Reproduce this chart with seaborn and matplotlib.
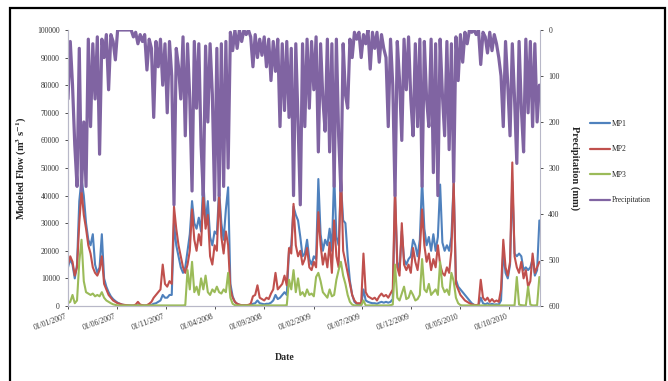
import numpy as np
import pandas as pd
import matplotlib
matplotlib.use("Agg")
import matplotlib.pyplot as plt
import matplotlib.dates as mdates
from matplotlib.lines import Line2D
from matplotlib.patches import Rectangle
from matplotlib.ticker import FormatStrFormatter, MultipleLocator
import seaborn as sns

# weekly samples, starting 01/01/2007
start = "2007-01-01"
n_weeks = 210

# flows in thousands of m3/s
mp1 = [14, 17, 15, 10, 15, 38, 46, 40, 30, 24,
       22, 26, 15, 12, 14, 26, 10, 7, 5, 3.5,
       2.5, 1.8, 1.2, 0.8, 0.5, 0.3, 0.2, 0.2, 0.1, 0.1,
       0.1, 0.3, 0.2, 0.1, 0.1, 0.1, 0.2, 0.4, 0.8, 1,
       1.5, 2, 4, 3, 3, 4, 4, 30, 22, 18,
       14, 12, 14, 20, 26, 38, 30, 28, 32, 27,
       46, 30, 38, 25, 22, 27, 26, 42, 30, 24,
       35, 43, 8, 3.5, 1.5, 0.8, 0.4, 0.2, 0.2, 0.2,
       0.2, 0.3, 0.8, 1, 2, 1, 0.8, 0.6, 0.8, 0.8,
       1.2, 2, 4, 2.5, 3, 4, 5, 4, 20, 22,
       36, 33, 31, 25, 18, 19, 24, 17, 15, 18,
       17, 46, 26, 20, 24, 22, 28, 20, 48, 25,
       22, 45, 31, 30, 18, 9, 4, 1.5, 0.8, 0.5,
       0.5, 6, 2, 1.5, 1.2, 1, 1, 0.8, 1.2, 1.5,
       1.2, 1.5, 1.2, 1.5, 2.5, 40, 16, 13, 27, 17,
       15, 17, 18, 24, 22, 18, 24, 46, 28, 22,
       25, 20, 26, 20, 25, 44, 23, 20, 22, 20,
       25, 45, 9.5, 7, 6, 5, 4, 3, 2, 1,
       0.4, 0.2, 0.2, 3, 1, 0.6, 1, 0.5, 0.8, 0.5,
       0.6, 0.5, 2, 20, 12, 10, 15, 45, 19, 18,
       19, 18, 13, 14, 13, 14, 17, 11, 13, 31]

mp2 = [15, 18, 16, 11, 14, 30, 42, 33, 28, 22,
       19, 14, 12, 11, 13, 18, 8, 6, 4, 3,
       2, 1.5, 1, 0.8, 0.5, 0.4, 0.3, 0.2, 0.2, 0.2,
       0.5, 1.5, 0.5, 0.3, 0.2, 0.3, 0.8, 1.5, 3, 4,
       5, 6, 15, 8, 7, 9, 8, 36, 28, 22,
       18, 14, 12, 15, 20, 35, 24, 20, 26, 22,
       40, 28, 33, 18, 15, 22, 20, 41, 25, 19,
       27, 22, 6, 3, 1.5, 0.8, 0.5, 0.3, 0.3, 0.3,
       0.4, 0.8, 3.5, 4, 7.5, 3, 2.5, 2, 3, 2.5,
       4.5, 6, 12, 6, 7, 8, 11, 7.5, 21, 19,
       37, 22, 18, 20, 15, 17, 21, 14, 13, 16,
       14, 34, 22, 15, 19, 14, 23, 12, 31, 18,
       14, 50, 20, 16, 12, 8, 4, 2, 1, 1,
       1, 19, 5, 3.5, 3, 2.5, 3, 2, 3.5, 4.5,
       3.5, 4, 3, 4.5, 6, 44, 14, 11, 30, 15,
       13, 15, 12, 21, 16, 13, 20, 35, 22, 16,
       19, 13, 17, 14, 22, 15, 12, 11, 14, 12,
       20, 45, 8, 6, 4, 3, 2, 1.5, 1, 0.6,
       0.4, 0.3, 0.5, 9.5, 3, 2, 3, 1.5, 2.5, 1.5,
       2, 1.5, 6, 24, 14, 11, 16, 52, 18, 14,
       12, 16, 10, 13, 7, 9, 19, 12, 14, 16]

mp3 = [1, 1.5, 4, 1, 2, 16, 24, 9, 5, 4.5,
       4, 4.5, 3.5, 4, 3.5, 5, 3, 2, 1.5, 1,
       0.6, 0.4, 0.2, 0.2, 0.2, 0.2, 0.2, 0.2, 0.2, 0.2,
       0.2, 0.2, 0.2, 0.2, 0.2, 0.2, 0.2, 0.2, 0.2, 0.2,
       0.2, 0.2, 0.2, 0.2, 0.2, 0.2, 0.2, 0.2, 0.2, 0.2,
       0.2, 0.2, 0.3, 13, 6, 16, 5, 7, 4, 10,
       6, 11, 5, 4, 6, 5, 7, 5, 4.5, 6,
       5, 12, 3, 0.8, 0.3, 0.2, 0.2, 0.2, 0.2, 0.2,
       0.2, 0.2, 0.2, 0.2, 0.2, 0.2, 0.2, 0.2, 0.2, 0.2,
       0.2, 0.2, 0.2, 0.2, 0.2, 0.2, 0.2, 0.3, 9.5, 6,
       13, 5, 10, 4, 5, 3.5, 6, 4, 4.5, 3.5,
       10.5, 12, 9, 5, 4, 3, 6, 3.5, 4, 9.5,
       13, 16, 11, 8, 4, 1.5, 0.5, 0.2, 0.2, 0.2,
       0.2, 2, 0.2, 0.2, 0.2, 0.2, 0.2, 0.2, 0.2, 0.2,
       0.2, 0.2, 0.2, 0.3, 0.5, 15, 3, 2, 4.5, 7,
       2.5, 3, 5.5, 4, 2, 2.5, 4, 17, 6, 5,
       8, 4, 5, 6, 4, 16, 7, 5, 6, 4,
       12, 9, 3, 1, 0.3, 0.2, 0.2, 0.2, 0.2, 0.2,
       0.2, 0.2, 0.2, 0.2, 0.2, 0.2, 0.2, 0.2, 0.2, 0.2,
       0.2, 0.2, 0.2, 0.2, 0.2, 0.2, 0.2, 0.2, 0.2, 10.5,
       0.5, 0.3, 0.2, 0.2, 7, 0.5, 0.2, 0.2, 0.3, 10.5]

# precipitation in mm
precip = [150, 25, 120, 250, 340, 40, 350, 200, 340, 20,
          210, 30, 150, 15, 270, 20, 60, 10, 130, 10,
          25, 65, 0, 0, 0, 0, 0, 0, 0, 15,
          5, 30, 10, 25, 10, 87, 20, 40, 190, 25,
          80, 20, 120, 30, 180, 25, 100, 380, 40, 80,
          150, 15, 230, 30, 150, 350, 25, 170, 30, 250,
          360, 35, 200, 30, 140, 370, 40, 360, 30, 340,
          25, 300, 5, 45, 0, 40, 0, 25, 0, 10,
          0, 15, 80, 10, 60, 20, 55, 15, 80, 20,
          110, 25, 90, 20, 210, 30, 175, 25, 190, 40,
          360, 30, 200, 380, 30, 210, 20, 170, 25, 130,
          15, 265, 30, 150, 220, 20, 265, 30, 340, 20,
          230, 350, 30, 140, 170, 20, 60, 5, 20, 5,
          60, 10, 30, 0, 85, 5, 40, 5, 70, 10,
          40, 60, 210, 20, 120, 360, 25, 110, 240, 20,
          130, 15, 150, 230, 30, 210, 20, 340, 25, 150,
          210, 20, 310, 30, 360, 20, 140, 230, 25, 260,
          30, 330, 15, 110, 10, 70, 5, 30, 0, 5,
          0, 10, 0, 75, 5, 15, 50, 5, 45, 10,
          30, 60, 100, 210, 25, 120, 230, 30, 150, 290,
          25, 170, 265, 20, 180, 25, 210, 30, 200, 120]

tick_dates = ["2007-01-01", "2007-06-01", "2007-11-01", "2008-04-01",
              "2008-09-01", "2009-02-01", "2009-07-01", "2009-12-01",
              "2010-05-01", "2010-10-01"]

series_names = ["MP1", "MP2", "MP3", "Precipitation"]

dates = pd.date_range(start, periods=n_weeks, freq="7D")
df = pd.DataFrame({
    "Date": dates,
    "MP1": np.array(mp1) * 1000,
    "MP2": np.array(mp2) * 1000,
    "MP3": np.array(mp3) * 1000,
    "Precipitation": precip,
})

sns.set_style("ticks")
plt.rcParams["font.family"] = ["Liberation Serif", "DejaVu Serif"]
plt.rcParams["mathtext.fontset"] = "stix"

fig = plt.figure(figsize=(6.68, 3.81), dpi=100)
ax = fig.add_axes([0.1018, 0.1969, 0.7066, 0.7244])

colors = {"MP1": "#4f81bd", "MP2": "#c0504d", "MP3": "#9bbb59",
          "Precipitation": "#8064a2"}

for name in ["MP1", "MP2", "MP3"]:
    sns.lineplot(data=df, x="Date", y=name, ax=ax, color=colors[name],
                 lw=1.5, legend=False)

ax2 = ax.twinx()
sns.lineplot(data=df, x="Date", y="Precipitation", ax=ax2,
             color=colors["Precipitation"], lw=2.3, legend=False)

ax.set_xlim(pd.Timestamp("2007-01-01"), pd.Timestamp("2011-01-05"))
ax.set_ylim(0, 100000)
ax.yaxis.set_major_locator(MultipleLocator(10000))
ax.yaxis.set_major_formatter(FormatStrFormatter("%d"))
ax2.set_ylim(600, 0)
ax2.yaxis.set_major_locator(MultipleLocator(100))

ax.set_xticks(pd.to_datetime(tick_dates))
ax.xaxis.set_major_formatter(mdates.DateFormatter("%d/%m/%Y"))
for lab in ax.get_xticklabels():
    lab.set_rotation(20)
    lab.set_ha("right")

ax.tick_params(axis="both", labelsize=5.5, colors="#333333", length=2.5,
               width=0.6)
ax.tick_params(axis="x", pad=2)
ax2.tick_params(axis="y", labelsize=5.5, colors="#333333", length=2.5,
                width=0.6)

for a in (ax, ax2):
    a.spines["top"].set_visible(False)
    for s in ("left", "right", "bottom"):
        a.spines[s].set_color("#b8b8c8")
        a.spines[s].set_linewidth(0.8)
ax.spines["right"].set_visible(False)

ax.set_xlabel("Date", fontsize=7, fontweight="bold", labelpad=8)
ax.xaxis.set_label_coords(0.46, -0.17)
ax.set_ylabel("Modeled Flow (m$^\\mathbf{3}$ s$^\\mathbf{-1}$)", fontsize=7.5,
              fontweight="bold", labelpad=6)
ax2.set_ylabel("Precipitation (mm)", fontsize=7.5, fontweight="bold",
               rotation=-90, labelpad=14)

# legend with equal line widths for all four series
handles = [Line2D([], [], color=colors[n], lw=1.6) for n in series_names]
fig.legend(handles, series_names, loc="center left",
           bbox_to_anchor=(590 / 668, 1 - 162 / 381), frameon=False,
           fontsize=5.5, labelspacing=2.3, handlelength=2.6,
           handletextpad=0.3, borderpad=0, borderaxespad=0)

# outer black frame of the original figure
fig.patches.append(Rectangle((10 / 668, -0.01), 655 / 668, 1.0 - 8 / 381 + 0.01,
                             transform=fig.transFigure, fill=False,
                             edgecolor="black", lw=1.6))

fig.savefig("out.png", dpi=100)
